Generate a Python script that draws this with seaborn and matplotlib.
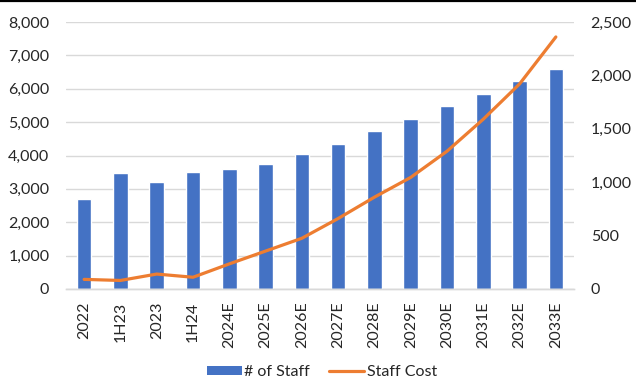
import numpy as np
import pandas as pd
import matplotlib
matplotlib.use("Agg")
import matplotlib.pyplot as plt
from matplotlib.lines import Line2D
from matplotlib.patches import Patch
from matplotlib.ticker import FuncFormatter, MultipleLocator
import seaborn as sns

# Reporting periods (E = estimate)
periods = ["2022", "1H23", "2023", "1H24", "2024E", "2025E", "2026E",
           "2027E", "2028E", "2029E", "2030E", "2031E", "2032E", "2033E"]
# Headcount (left axis)
staff = [2700, 3470, 3200, 3510, 3610, 3750, 4030,
         4350, 4720, 5100, 5470, 5850, 6220, 6590]
# Staff cost (right axis)
staff_cost = [90, 80, 140, 110, 235, 355, 475,
              660, 860, 1045, 1290, 1590, 1920, 2360]

bar_color = "#4472C4"
line_color = "#ED7D31"
grid_color = "#D9D9D9"
text_color = "#262626"

sns.set_theme(style="white")
plt.rcParams["font.family"] = ["Lato", "DejaVu Sans"]

df = pd.DataFrame({"period": periods, "staff": staff,
                   "cost": staff_cost, "pos": np.arange(len(periods))})

fig = plt.figure(figsize=(6.36, 3.82), dpi=100)
ax = fig.add_axes([66 / 636, 1 - 289 / 382, (574 - 66) / 636, (289 - 22) / 382])

sns.barplot(data=df, x="period", y="staff", color=bar_color, width=0.4,
            saturation=1, ax=ax, zorder=2)
ax.set_ylim(0, 8000)
ax.set_xlim(-0.5, len(periods) - 0.5)
ax.yaxis.set_major_locator(MultipleLocator(1000))
ax.yaxis.set_major_formatter(FuncFormatter(lambda v, p: f"{int(v):,}"))
ax.grid(axis="y", color=grid_color, linewidth=1.0, zorder=0)
ax.set_axisbelow(True)

ax2 = ax.twinx()
sns.lineplot(data=df, x="pos", y="cost", color=line_color, linewidth=2.3,
             ax=ax2, zorder=3)
ax2.lines[0].set_solid_capstyle("round")
ax2.lines[0].set_solid_joinstyle("round")
ax2.set_ylim(0, 2500)
ax2.set_xlim(-0.5, len(periods) - 0.5)
ax2.yaxis.set_major_locator(MultipleLocator(500))
ax2.yaxis.set_major_formatter(FuncFormatter(lambda v, p: f"{int(v):,}"))
ax2.grid(False)

for a in (ax, ax2):
    a.set_xlabel("")
    a.set_ylabel("")
    for side in ("top", "left", "right"):
        a.spines[side].set_visible(False)
    a.spines["bottom"].set_color(grid_color)
    a.spines["bottom"].set_linewidth(1.0)
    a.tick_params(length=0, colors=text_color, labelsize=11.5)

ax.tick_params(axis="y", pad=12)
ax2.tick_params(axis="y", pad=12)
ax.set_xticks(range(len(periods)))
ax.set_xticklabels(periods, rotation=90, fontsize=11.5, color=text_color)
ax.tick_params(axis="x", pad=9)

handles = [Patch(facecolor=bar_color, edgecolor="none"),
           Line2D([0], [0], color=line_color, linewidth=2.3)]
fig.legend(handles, ["# of Staff", "Staff Cost"], loc="center",
           bbox_to_anchor=(322 / 636, 1 - 372 / 382), ncol=2, frameon=False,
           fontsize=11.5, handlelength=2.2, handleheight=0.55, handletextpad=0.15,
           columnspacing=1.2, labelcolor=text_color)

fig.add_artist(Line2D([0, 1], [1 - 1 / 382, 1 - 1 / 382],
                      transform=fig.transFigure, color="black", linewidth=1.6))

fig.savefig("out.png", dpi=100, facecolor="white")
